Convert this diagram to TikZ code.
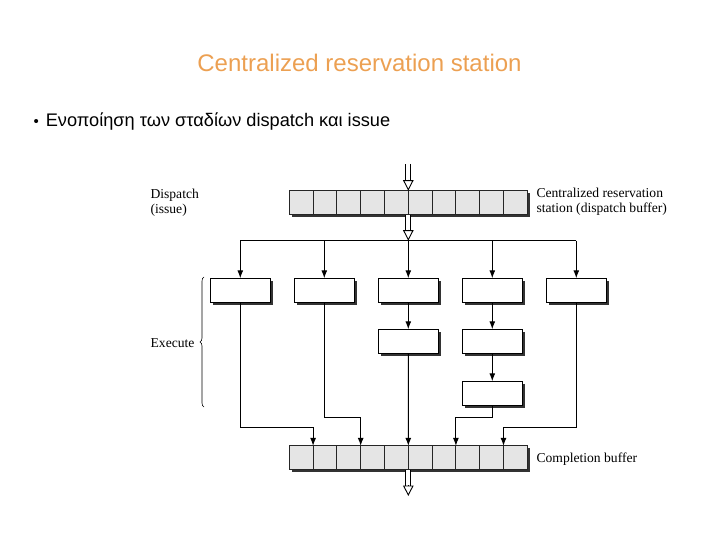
\documentclass[tikz,border=0pt]{standalone}
\usepackage{fontspec}
\setmainfont{Liberation Serif}
\newfontfamily\slidefont{Liberation Sans}
\usetikzlibrary{calc, positioning, shadows, arrows.meta, decorations.pathreplacing}
\definecolor{titleorange}{RGB}{236,160,82}
\tikzset{
  buffer/.style={draw=black!85, fill=black!10, line width=1pt, minimum width=238pt,
    minimum height=24pt, inner sep=0pt, outer sep=0pt,
    drop shadow={shadow xshift=2.5pt, shadow yshift=-2.5pt, fill=black!80, opacity=1}},
  unit/.style={draw, fill=white, line width=1pt, minimum width=60pt, minimum height=24pt,
    inner sep=0pt, outer sep=0pt,
    drop shadow={shadow xshift=2.5pt, shadow yshift=-2.5pt, fill=black!80, opacity=1}},
  divider/.style={draw=black!85, line width=1pt},
  dblshaft/.style={double, double distance=4.2pt, line width=0.9pt, shorten >=10pt},
  openhead/.style={-{Triangle[open, length=10.5pt, width=10.5pt]}, line width=0.9pt},
  lbl/.style={font=\fontsize{13.6}{15}\selectfont, align=left, inner sep=0pt}
}
\begin{document}
\begin{tikzpicture}[x=1pt, y=-1pt, >={Latex[length=8pt, width=6pt]}, line width=1.1pt]
  \useasboundingbox (0,0) rectangle (720,540);
  % slide texts
  \node[font=\slidefont\fontsize{24}{28}\selectfont, text=titleorange] (title) at (359.5,63)
    {Centralized reservation station};
  \node[font=\slidefont\fontsize{18.2}{21}\selectfont, anchor=west, inner sep=0pt] (point) at (33,122)
    {{\fontsize{15}{15}\selectfont\textbullet}\hspace{7pt}Ενοποίηση των σταδίων dispatch και issue};
  % reservation station
  \node[buffer] (rs) at (408.3,202.7) {};
  \foreach \k in {1,...,9} {
    \coordinate (rs\k) at ($(rs.north west)!\k/10!(rs.north east)$);
    \draw[divider] (rs\k) -- (rs\k |- rs.south);
  }
  % completion buffer
  \node[buffer] (cb) at (408.3,457.9) {};
  \foreach \k in {1,...,9} {
    \coordinate (cb\k) at ($(cb.north west)!\k/10!(cb.north east)$);
    \draw[divider] (cb\k) -- (cb\k |- cb.south);
  }
  % functional units
  \foreach \i/\x in {1/240.3, 2/324.3, 3/408.3, 4/492.3, 5/576.3}
    \node[unit] (u\i) at (\x,290.3) {};
  \node[unit, below=27pt of u3] (u3b) {};
  \node[unit, below=27pt of u4] (u4b) {};
  \node[unit, below=28pt of u4b] (u4c) {};
  % dispatch in and out
  \coordinate (in) at (408.3,164);
  \coordinate (fan) at (408.3,240.7);
  \coordinate (out) at (408.3,496);
  \draw[dblshaft] (in) -- (rs.north);
  \draw[openhead] ($(rs.north)+(0,-11)$) -- (rs.north);
  \draw[dblshaft] (rs.south) -- (fan);
  \draw[openhead] ($(fan)+(0,-11)$) -- (fan);
  \draw[dblshaft] (cb.south) -- (out);
  \draw[openhead] ($(out)+(0,-11)$) -- (out);
  \draw (u1.north |- fan) -- (u5.north |- fan);
  \foreach \i in {1,...,5}
    \draw[->] (u\i.north |- fan) -- (u\i.north);
  \draw[->] (u3) -- (u3b);
  \draw[->] (u4) -- (u4b);
  \draw[->] (u4b) -- (u4c);
  % results to completion buffer
  \coordinate (outer) at (0,427.3);
  \coordinate (inner) at (0,417.3);
  \draw[->] (u1.south) |- (outer -| cb1) -- (cb1);
  \draw[->] (u2.south) |- (inner -| cb3) -- (cb3);
  \draw[->] (u3b.south) -- (cb5);
  \draw[->] (u4c.south) |- (inner -| cb7) -- (cb7);
  \draw[->] (u5.south) |- (outer -| cb9) -- (cb9);
  % labels
  \node[lbl, anchor=west] (disp) at (150,203) {Dispatch\\(issue)};
  \node[lbl, anchor=west] (rslbl) at (536,201.5) {Centralized reservation\\station (dispatch buffer)};
  \node[lbl, anchor=west] (cblbl) at (536,459) {Completion buffer};
  \node[lbl, anchor=east] (exec) at (195,343) {Execute};
  \coordinate (brlo) at (204,407);
  \coordinate (brhi) at (204,277);
  \draw[line width=0.6pt, decorate, decoration={brace, amplitude=4pt}] (brlo) -- (brhi);
\end{tikzpicture}
\end{document}
